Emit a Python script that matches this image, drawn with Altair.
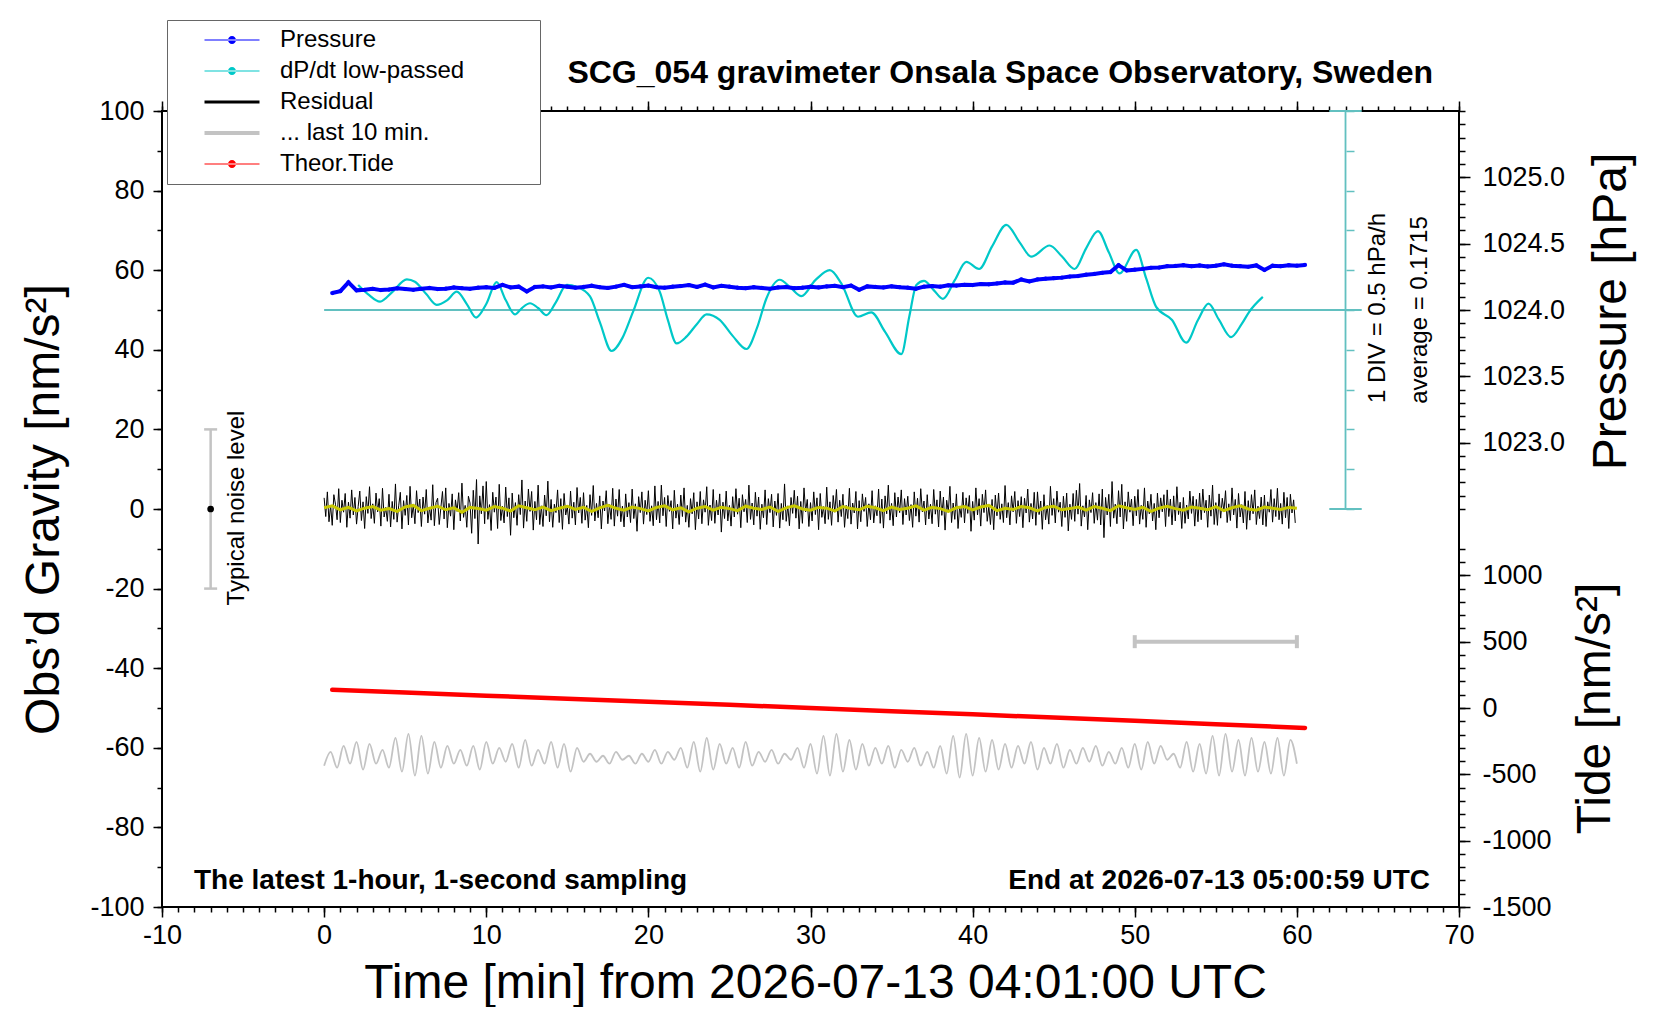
import altair as alt
import pandas as pd

# ------------------------------------------------------------------ data
# Pressure [hPa], sampled every 0.5 min starting at t = 0.5 min
PRES_T0, PRES_DT = 0.5, 0.5
PRES_HPA = [
    1024.128, 1024.142, 1024.208, 1024.148, 1024.152, 1024.160, 1024.150, 1024.154, 1024.163, 1024.158,
    1024.152, 1024.160, 1024.166, 1024.158, 1024.161, 1024.170, 1024.164, 1024.160, 1024.168, 1024.172,
    1024.166, 1024.190, 1024.170, 1024.176, 1024.140, 1024.174, 1024.178, 1024.170, 1024.182, 1024.176,
    1024.168, 1024.174, 1024.183, 1024.172, 1024.166, 1024.176, 1024.190, 1024.172, 1024.178, 1024.184,
    1024.172, 1024.168, 1024.176, 1024.180, 1024.188, 1024.174, 1024.192, 1024.170, 1024.182, 1024.176,
    1024.168, 1024.164, 1024.172, 1024.166, 1024.160, 1024.170, 1024.174, 1024.164, 1024.168, 1024.176,
    1024.170, 1024.178, 1024.182, 1024.172, 1024.184, 1024.152, 1024.178, 1024.174, 1024.170, 1024.178,
    1024.172, 1024.168, 1024.160, 1024.176, 1024.180, 1024.176, 1024.186, 1024.184, 1024.190, 1024.188,
    1024.196, 1024.194, 1024.200, 1024.208, 1024.206, 1024.230, 1024.216, 1024.230, 1024.236, 1024.240,
    1024.244, 1024.252, 1024.256, 1024.266, 1024.272, 1024.280, 1024.286, 1024.338, 1024.298, 1024.304,
    1024.310, 1024.318, 1024.320, 1024.330, 1024.332, 1024.338, 1024.330, 1024.336, 1024.328, 1024.334,
    1024.344, 1024.334, 1024.330, 1024.326, 1024.336, 1024.302, 1024.334, 1024.330, 1024.338, 1024.334,
    1024.340,
]

# dP/dt low-passed [hPa/h]
DPDT_T = [
    2.1, 2.7, 3.45, 4.2, 5.1, 5.6, 6.3, 6.94, 7.6, 8.18, 8.8, 9.37, 10.0, 10.64, 11.2, 11.77, 12.2, 12.7,
    13.2, 13.72, 14.3, 14.96, 15.6, 16.4, 17.0, 17.73, 18.4, 19.06, 19.99, 20.7, 21.2, 21.74, 22.35, 23.0,
    23.59, 24.4, 25.2, 26.05, 26.7, 27.28, 28.1, 28.8, 29.44, 30.3, 31.19, 31.9, 32.93, 33.75, 34.6, 35.6,
    36.1, 36.53, 37.0, 37.6, 38.17, 38.9, 39.61, 40.4, 41.2, 42.08, 42.9, 43.62, 44.75, 45.5, 46.29, 47.0,
    47.73, 48.4, 49.06, 50.09, 50.7, 51.32, 52.3, 53.17, 53.9, 54.55, 55.2, 55.94, 56.6, 57.07, 57.9,
]
DPDT_HPAH = [
    0.315, 0.20, 0.105, 0.225, 0.385, 0.355, 0.20, 0.065, 0.125, 0.23, 0.075, -0.095, 0.075, 0.35, 0.125,
    -0.055, 0.025, 0.085, 0.025, -0.065, 0.10, 0.315, 0.29, 0.17, -0.15, -0.515, -0.35, -0.02, 0.405, 0.23,
    -0.125, -0.42, -0.335, -0.175, -0.055, -0.125, -0.325, -0.49, -0.225, 0.145, 0.38, 0.275, 0.175, 0.375,
    0.50, 0.335, -0.085, -0.03, -0.275, -0.555, -0.075, 0.315, 0.365, 0.25, 0.14, 0.375, 0.605, 0.515, 0.80,
    1.07, 0.85, 0.67, 0.81, 0.675, 0.515, 0.775, 0.99, 0.725, 0.46, 0.755, 0.40, 0.04, -0.125, -0.41, -0.125,
    0.08, -0.125, -0.34, -0.175, -0.02, 0.165,
]

# Residual [nm/s^2], every 0.1 min from t = 0
RESID_T0, RESID_DT = 0.0, 0.1
RESID = [
    2.8, -1.9, 4.3, -3.2, 0.9, -4.1, 3.6, 1.2, -2.7, 5.1,
    -3.4, 2.2, -0.8, 3.9, -4.6, 1.7, -2.3, 4.8, -1.5, 2.9,
    -3.8, 0.6, 4.5, -2.9, 1.8, -4.9, 3.1, -1.1, 5.6, -2.4,
    1.3, -3.6, 4.0, -0.7, 2.6, -4.3, 5.2, -2.0, 0.4, -3.1,
    3.7, -4.5, 1.9, -2.6, 6.3, -3.3, 0.8, 4.2, -5.0, 2.1,
    -1.6, 3.4, -4.0, 5.7, -2.2, 1.0, -3.7, 4.6, -0.9, 2.5,
    -4.4, 3.0, -1.3, 4.9, -3.5, 0.5, -2.8, 6.1, -4.2, 1.6,
    2.7, -3.9, 0.3, 4.4, -2.5, 5.3, -4.7, 1.4, -1.8, 3.8,
    -5.2, 2.3, -0.6, 4.1, -3.0, 6.5, -2.1, 0.9, -4.6, 3.2,
    1.5, -6.1, 4.7, -2.4, 7.4, -8.8, 3.3, -1.2, 5.8, -3.7,
    6.9, -2.6, 1.1, -5.4, 4.2, -0.8, 3.0, -4.9, 6.2, -2.9,
    0.7, -3.5, 5.5, -1.9, 2.8, -6.6, 4.0, -2.2, 1.6, -4.1,
    3.6, -1.4, 7.3, -4.8, 2.0, -3.1, 5.0, -0.6, 4.4, -5.3,
    1.9, -2.7, 6.0, -3.9, 0.8, -4.4, 3.5, -1.7, 7.0, -3.2,
    2.4, -4.6, 1.2, -0.9, 4.8, -3.4, 2.6, -5.1, 3.9, -1.5,
    0.6, -3.8, 4.5, -2.3, 1.7, -4.0, 5.4, -1.0, 2.9, -3.6,
    4.1, -2.8, 0.9, -4.7, 3.6, -1.6, 5.9, -3.0, 1.4, -2.2,
    3.3, -5.0, 2.0, -0.5, 4.6, -3.7, 1.1, -2.6, 5.2, -4.3,
    2.5, -1.8, 4.9, -3.2, 0.7, -4.5, 3.8, -2.0, 1.6, -3.4,
    5.0, -2.4, 1.3, -5.6, 3.1, -0.9, 4.3, -3.8, 2.2, -1.4,
    4.6, -3.1, 0.8, -4.2, 5.8, -2.7, 1.9, -3.5, 6.0, -1.7,
    2.9, -4.4, 3.4, -0.6, 2.1, -5.0, 4.7, -2.3, 1.2, -3.9,
    3.5, -1.9, 5.3, -3.3, 0.9, -4.6, 2.6, -1.2, 4.1, -5.2,
    1.8, -2.5, 4.4, -3.7, 2.3, -0.8, 5.6, -4.1, 1.0, -2.9,
    4.9, -3.6, 2.2, -1.5, 3.8, -5.8, 1.7, -2.4, 4.5, -3.0,
    0.9, -4.3, 3.1, -2.0, 5.1, -1.3, 2.7, -4.7, 3.6, -0.7,
    2.4, -3.4, 6.0, -2.6, 1.5, -4.0, 4.2, -1.8, 3.0, -5.1,
    1.2, -2.2, 4.8, -3.9, 2.6, -0.9, 3.7, -4.5, 2.0, -1.6,
    3.9, -4.8, 1.4, -2.7, 6.3, -3.1, 0.8, -4.2, 2.9, -1.1,
    4.7, -2.3, 3.2, -5.0, 1.9, -3.6, 5.3, -0.7, 2.4, -4.4,
    1.6, -3.0, 4.3, -1.4, 2.8, -5.2, 3.9, -2.1, 0.6, -3.7,
    5.5, -2.6, 1.8, -4.1, 3.4, -0.8, 4.9, -3.3, 2.2, -1.9,
    3.7, -4.6, 0.9, -2.4, 5.2, -3.8, 1.5, -1.0, 4.4, -5.0,
    2.1, -3.2, 3.8, -0.6, 2.9, -4.4, 1.3, -2.7, 4.6, -3.5,
    0.8, -1.7, 5.0, -3.6, 2.5, -4.8, 3.3, -1.2, 6.0, -2.8,
    1.4, -4.2, 4.1, -2.0, 3.0, -0.9, 4.8, -3.9, 2.6, -1.5,
    3.2, -2.9, 1.1, -4.6, 4.3, -1.8, 2.7, -3.3, 5.1, -0.7,
    2.0, -4.0, 3.6, -2.5, 1.2, -3.7, 4.9, -1.3, 2.3, -4.5,
    4.5, -1.6, 3.0, -5.3, 2.2, -0.8, 5.7, -3.4, 1.5, -2.6,
    3.8, -4.9, 0.7, -2.1, 4.2, -3.5, 2.8, -1.1, 3.4, -5.6,
    1.9, -2.8, 5.3, -1.5, 2.6, -4.3, 3.7, -0.9, 4.8, -3.1,
    0.6, -3.9, 2.4, -5.2, 3.5, -1.7, 4.0, -2.6, 1.3, -3.4,
    5.9, -2.2, 1.6, -4.0, 3.3, -0.7, 4.4, -3.6, 2.1, -1.9,
    3.1, -4.7, 2.7, -1.0, 5.0, -3.3, 1.4, -2.5, 4.2, -4.1,
    4.3, -1.4, 2.0, -5.1, 3.6, -2.7, 0.9, -3.8, 5.7, -1.6,
    2.6, -3.5, 4.5, -0.8, 1.7, -4.4, 3.2, -2.1, 4.0, -5.5,
    1.2, -2.6, 3.9, -3.1, 4.7, -1.3, 6.4, -4.3, 0.8, -2.0,
    3.4, -5.2, 2.3, -0.9, 4.1, -3.6, 1.6, -2.8, 3.8, -4.0,
    5.0, -7.2, 2.9, -1.5, 3.7, -4.4, 6.9, -2.3, 1.2, -3.7,
    4.6, -2.0, 6.2, -5.0, 1.8, -3.1, 4.3, -0.8, 2.5, -4.2,
    3.2, -1.7, 4.9, -3.8, 0.9, -2.6, 5.3, -4.6, 2.0, -1.2,
    3.7, -3.0, 1.4, -5.2, 4.0, -2.2, 2.8, -0.7, 3.6, -4.4,
    4.8, -1.9, 2.5, -4.0, 3.3, -3.0, 5.6, -1.4, 1.7, -4.9,
    2.9, -3.6, 1.0, -2.5, 4.5, -1.1, 3.2, -4.3, 2.4, -3.2,
    4.0, -2.7, 5.0, -0.9, 2.2, -4.6, 3.5, -1.8, 6.0, -3.9,
    1.6, -4.1, 3.8, -2.3, 2.7, -0.6, 4.6, -3.4, 1.3, -2.9,
    5.3, -1.5, 2.4, -4.8, 3.9, -2.0, 1.1, -3.5, 4.4, -5.1,
    2.1, -2.8, 3.6, -1.2, 4.8, -3.9, 0.7, -2.4, 3.0, -4.0,
    3.5, -4.4, 1.8, -0.8, 4.9, -3.3, 2.6, -1.9, 5.2, -2.7,
    1.4, -3.8, 4.2, -2.2, 2.9, -4.9, 3.7, -1.0, 2.3, -3.5,
]

# Smoothed residual (yellow), every 0.5 min from t = 0
SMOOTH_T0, SMOOTH_DT = 0.0, 0.5
SMOOTH = [
    0.3, 0.8, -0.2, 0.4, -0.5, 0.2, 0.6, -0.3, 0.1, -0.6,
    0.5, 0.9, -0.4, 0.2, 0.7, -0.2, 0.3, -0.8, 0.4, 0.1,
    -0.3, 0.6, 0.2, -0.5, 0.8, 0.3, -0.2, 0.5, -0.4, 0.2,
    0.7, -0.1, 0.4, -0.6, 0.3, 0.9, 0.2, -0.3, 0.5, 0.1,
    -0.5, 0.4, 0.8, -0.2, 0.3, -0.7, 0.2, 0.6, -0.3, 0.4,
    0.1, -0.4, 0.7, 0.2, -0.1, 0.5, -0.6, 0.3, 0.8, 0.0,
    -0.3, 0.4, 0.2, -0.5, 0.6, 0.1, -0.2, 0.7, 0.3, -0.4,
    0.5, -0.1, 0.2, 0.8, -0.3, 0.4, 0.1, -0.6, 0.3, 0.6,
    -0.2, 0.5, 0.9, -0.4, 0.2, -0.1, 0.6, 0.3, -0.5, 0.4,
    0.7, -0.2, 0.1, 0.5, -0.3, 0.6, 0.2, -0.4, 0.8, 0.3,
    -0.1, 0.4, -0.6, 0.2, 0.7, 0.1, -0.3, 0.5, 0.2, -0.2,
    0.6, -0.4, 0.3, 0.8, 0.0, -0.3, 0.5, 0.2, -0.1, 0.4,
    0.2,
]

# "... last 10 min." (grey trace, expanded over the hour), peaks/troughs every 0.4 min
LAST10_T0, LAST10_DT = 0.0, 0.4
LAST10 = [
    -64.5, -61, -65, -59.5, -64, -58.5, -65.5, -59, -64, -60.5, -65,
    -57.5, -66, -56.5, -67, -57, -66.5, -58.5, -65, -59.5,
    -64, -60.5, -64.5, -59.5, -65.5, -58.5, -64, -60, -63.5, -59, -65,
    -58, -64.5, -60.5, -64, -58.5, -65, -59, -66, -60, -63.5,
    -61.5, -63.5, -62, -64, -61, -63, -62, -64, -61.5, -63.5, -60.5, -64, -61, -63, -60,
    -65, -58.5, -66, -57.5, -65.5, -59, -64, -60, -65, -58.5,
    -64.5, -61, -63.5, -60.5, -64, -61.5, -63, -60, -65, -59,
    -66.5, -57, -67, -56.5, -66, -58, -65.5, -59, -64.5, -60,
    -64, -59.5, -65, -60.5, -63.5, -60, -64.5, -61, -65, -59.5,
    -66.5, -57, -67.5, -56.5, -67, -57.5, -66, -58, -65.5, -59,
    -65, -59.5, -64, -58.5, -65.5, -60, -64, -59, -65, -60.5,
    -64, -60, -63.5, -59.5, -64.5, -61, -64, -60, -65, -59,
    -65.5, -58.5, -64, -59.5, -63, -61.5, -65, -58.5, -66, -59,
    -66.5, -57, -67, -56.5, -66, -58, -67, -57.5, -66, -58.5,
    -66.5, -57.5, -67, -58, -64,
]

# Theoretical tide [nm/s^2]
TIDE_T = [0.5, 5, 10, 15, 20, 25, 30, 35, 40, 45, 50, 55, 60.5]
TIDE = [137, 116, 93, 70, 47, 24, 0, -24, -48, -72, -97, -122, -150]

# typical noise level and last-10-min window
NOISE_T = -7.0
NOISE_LEVEL = 20.0
LAST10_WINDOW = [50.0, 60.0]
LAST10_LEVEL = 500.0          # on the tide axis

LEGEND_NAMES = ["Pressure", "dP/dt low-passed", "Residual", "... last 10 min.", "Theor.Tide"]

TITLE = "SCG_054 gravimeter Onsala Space Observatory, Sweden"
NOTE_LEFT = "The latest 1-hour, 1-second sampling"
NOTE_RIGHT = "End at 2026-07-13 05:00:59 UTC"
DIV_TEXT = "1 DIV = 0.5 hPa/h"
AVG_TEXT = "average = 0.1715"
NOISE_TEXT = "Typical noise level"
X_TITLE = "Time [min] from 2026-07-13 04:01:00 UTC"

# ------------------------------------------------------------------ style
FONT = "Liberation Sans"
BLUE, CYAN, CYAN_L = "#0000ff", "#00c8c8", "#62c0c0"
GREY, RED, YELLOW = "#c3c3c3", "#ff0000", "#c8c800"
LEGEND_COLORS = [BLUE, CYAN, "#000000", GREY, RED]
PATH_DOT = ("M-5.5,-0.1L5.5,-0.1L5.5,0.1L-5.5,0.1Z "
            "M-0.8,0A0.8,0.8,0,1,0,0.8,0A0.8,0.8,0,1,0,-0.8,0Z")
PATH_THICK = "M-5.5,-0.3L5.5,-0.3L5.5,0.3L-5.5,0.3Z"
PATH_THICKER = "M-5.5,-0.4L5.5,-0.4L5.5,0.4L-5.5,0.4Z"
LEGEND_SHAPES = [PATH_DOT, PATH_DOT, PATH_THICK, PATH_THICKER, PATH_DOT]
LEGEND_SPACER = "MMM"   # invisible (white) legend title on the right: widens the box

X_DOM = [-10, 70]
G_DOM = [-100, 100]
P_DOM = [1019.5, 1025.5]
T_DOM = [-1500, 4500]
D_DOM = [-7.5, 2.5]

W, H = 1297, 796


def X(axis=None):
    return alt.X("t:Q", scale=alt.Scale(domain=X_DOM, nice=False, zero=False), axis=axis)


def Y(field, dom, axis=None):
    return alt.Y(f"{field}:Q", scale=alt.Scale(domain=dom, nice=False, zero=False), axis=axis)


def tick_axis(orient, values, size, color="black", offset=0):
    return alt.Axis(orient=orient, values=values, tickSize=size, labels=False, domain=False,
                    grid=False, ticks=True, tickColor=color, tickWidth=1.5, title=None,
                    offset=offset)


AX_BOTTOM = alt.Axis(orient="bottom", values=list(range(-10, 71, 10)), labelExpr="'' + datum.value",
                     tickSize=10, tickWidth=1.5, labelPadding=5, labelFontSize=27, domain=False,
                     grid=False, title=X_TITLE, titleFontSize=48, titleFontWeight="normal",
                     titleX=653, titleY=90, titleAlign="center", titleBaseline="alphabetic",
                     labelFlush=False, labelOverlap=False)
AX_BOTTOM_MINOR = tick_axis("bottom", list(range(-10, 71)), 5)
AX_TOP = tick_axis("top", list(range(-10, 71, 10)), 10)
AX_TOP_MINOR = tick_axis("top", list(range(-10, 71)), 5)
AX_LEFT = alt.Axis(orient="left", values=list(range(-100, 101, 20)), labelExpr="'' + datum.value",
                   tickSize=9, tickWidth=1.5, labelPadding=9, labelFontSize=27, domain=False, grid=False,
                   title="Obs\u2019d Gravity [nm/s\u00b2]", titleFontSize=48, titleFontWeight="normal",
                   titleAngle=270, titleX=-104, titleY=398, titleAlign="center",
                   titleBaseline="alphabetic", labelOverlap=False)
AX_LEFT_MINOR = tick_axis("left", list(range(-100, 101, 10)), 5)
AX_PRES = alt.Axis(orient="right", values=[1023.0, 1023.5, 1024.0, 1024.5, 1025.0], format=".1f",
                   tickSize=11, tickWidth=1.5, labelPadding=12, labelFontSize=27, domain=False,
                   grid=False, title="Pressure [hPa]", titleFontSize=48, titleFontWeight="normal",
                   titleAngle=270, titleX=166, titleY=200, titleAlign="center",
                   titleBaseline="alphabetic", labelOverlap=False)
AX_PRES_MINOR = tick_axis("right", [round(1022.5 + 0.1 * i, 1) for i in range(31)], 6)
AX_TIDE = alt.Axis(orient="right", values=[-1500, -1000, -500, 0, 500, 1000], labelExpr="'' + datum.value",
                   tickSize=11, tickWidth=1.5, labelPadding=12, labelFontSize=27, domain=False,
                   grid=False, title="Tide [nm/s\u00b2]", titleFontSize=48, titleFontWeight="normal",
                   titleAngle=270, titleX=150, titleY=597, titleAlign="center",
                   titleBaseline="alphabetic", labelOverlap=False)
AX_TIDE_MINOR = tick_axis("right", list(range(-1500, 1201, 100)), 6)
AX_DPDT = tick_axis("right", [-2.5 + 0.5 * i for i in range(11)], 8, color=CYAN_L, offset=-113)

# ------------------------------------------------------------------ frames
df_pres = pd.DataFrame({"t": [PRES_T0 + PRES_DT * i for i in range(len(PRES_HPA))], "p": PRES_HPA})
df_dpdt = pd.DataFrame({"t": DPDT_T, "d": DPDT_HPAH})
df_res = pd.DataFrame({"t": [RESID_T0 + RESID_DT * i for i in range(len(RESID))], "g": RESID})
df_smooth = pd.DataFrame({"t": [SMOOTH_T0 + SMOOTH_DT * i for i in range(len(SMOOTH))], "g": SMOOTH})
df_last = pd.DataFrame({"t": [LAST10_T0 + LAST10_DT * i for i in range(len(LAST10))], "g": LAST10})
df_tide = pd.DataFrame({"t": TIDE_T, "tide": TIDE})
df_noise = pd.DataFrame({"t": [NOISE_T], "lo": [-NOISE_LEVEL], "hi": [NOISE_LEVEL], "mid": [0.0]})
df_noise_caps = pd.DataFrame({"t": [NOISE_T, NOISE_T], "g": [-NOISE_LEVEL, NOISE_LEVEL]})
df_win = pd.DataFrame({"t": [LAST10_WINDOW[0]], "t2": [LAST10_WINDOW[1]], "lev": [LAST10_LEVEL]})
df_win_caps = pd.DataFrame({"t": LAST10_WINDOW, "lev": [LAST10_LEVEL, LAST10_LEVEL]})
df_zero = pd.DataFrame({"t": [0.0], "t2": [64.0], "d": [0.0]})
df_bar = pd.DataFrame({"t": [63.0], "lo": [-2.5], "hi": [2.5]})
df_bar_caps = pd.DataFrame({"t": [62.0, 62.0], "t2": [64.0, 64.0], "d": [-2.5, 2.5]})
df_leg = pd.DataFrame({"series": LEGEND_NAMES})

# ------------------------------------------------------------------ layers
L_res = alt.Chart(df_res).mark_line(color="black", strokeWidth=1).encode(
    x=X(AX_BOTTOM), y=Y("g", G_DOM, AX_LEFT))
L_smooth = alt.Chart(df_smooth).mark_line(color=YELLOW, strokeWidth=3).encode(
    x=X(AX_BOTTOM_MINOR), y=Y("g", G_DOM, AX_LEFT_MINOR))
L_last = alt.Chart(df_last).mark_line(color=GREY, strokeWidth=1.8, interpolate="monotone").encode(
    x=X(AX_TOP), y=Y("g", G_DOM))
L_noise = alt.Chart(df_noise).mark_rule(color=GREY, strokeWidth=2.5).encode(
    x=X(AX_TOP_MINOR), y=Y("lo", G_DOM), y2="hi")
L_noise_caps = alt.Chart(df_noise_caps).mark_tick(orient="horizontal", size=13, thickness=2.5,
                                                   color=GREY, opacity=1).encode(
    x=X(), y=Y("g", G_DOM))
L_noise_dot = alt.Chart(df_noise).mark_point(filled=True, color="black", size=45, opacity=1).encode(
    x=X(), y=Y("mid", G_DOM))
L_tide = alt.Chart(df_tide).mark_line(color=RED, strokeWidth=4.5, strokeCap="round").encode(
    x=X(), y=Y("tide", T_DOM, AX_TIDE))
L_win = alt.Chart(df_win).mark_rule(color=GREY, strokeWidth=4).encode(
    x=X(), x2="t2", y=Y("lev", T_DOM, AX_TIDE_MINOR))
L_win_caps = alt.Chart(df_win_caps).mark_tick(orient="vertical", size=13, thickness=4,
                                               color=GREY, opacity=1).encode(
    x=X(), y=Y("lev", T_DOM))
L_zero = alt.Chart(df_zero).mark_rule(color=CYAN_L, strokeWidth=1.8).encode(
    x=X(), x2="t2", y=Y("d", D_DOM))
L_bar = alt.Chart(df_bar).mark_rule(color=CYAN_L, strokeWidth=1.8).encode(
    x=X(), y=Y("lo", D_DOM), y2="hi")
L_bar_caps = alt.Chart(df_bar_caps).mark_rule(color=CYAN_L, strokeWidth=1.8).encode(
    x=X(), x2="t2", y=Y("d", D_DOM))
L_dpdt = alt.Chart(df_dpdt).mark_line(color=CYAN, strokeWidth=2.2, interpolate="monotone").encode(
    x=X(), y=Y("d", D_DOM, AX_DPDT))
L_pres = alt.Chart(df_pres).mark_line(color=BLUE, strokeWidth=4).encode(
    x=X(), y=Y("p", P_DOM, AX_PRES))
L_pres_pts = alt.Chart(df_pres).mark_circle(color=BLUE, size=18, opacity=1).encode(
    x=X(), y=Y("p", P_DOM, AX_PRES_MINOR))

LEG = alt.Legend(orient="none", legendX=5, legendY=-91, title=LEGEND_SPACER, titleOrient="right",
                 titleColor="white", titleFontSize=24, titleFont=FONT, titlePadding=8,
                 labelFontSize=24, labelFont=FONT,
                 labelColor="black", symbolSize=100, symbolOffset=45, labelOffset=36, padding=8,
                 rowPadding=7, fillColor="white", strokeColor="#666666", symbolStrokeWidth=0,
                 labelLimit=600)
L_leg = alt.Chart(df_leg).mark_point(filled=True, size=100, opacity=1, clip=True).encode(
    x=alt.value(-600), y=alt.value(-600),
    color=alt.Color("series:N", scale=alt.Scale(domain=LEGEND_NAMES, range=LEGEND_COLORS), legend=LEG),
    shape=alt.Shape("series:N", scale=alt.Scale(domain=LEGEND_NAMES, range=LEGEND_SHAPES), legend=LEG),
)


def text_layer(s, px, py, size, weight="normal", align="center", baseline="alphabetic", angle=0):
    return alt.Chart(pd.DataFrame({"s": [s]})).mark_text(
        font=FONT, fontSize=size, fontWeight=weight, align=align, baseline=baseline,
        angle=angle, color="black").encode(x=alt.value(px), y=alt.value(py), text="s:N")


T_title = text_layer(TITLE, 1271, -28, 32, weight="bold", align="right")
T_left = text_layer(NOTE_LEFT, 32, 778, 28, weight="bold", align="left")
T_right = text_layer(NOTE_RIGHT, 1268, 778, 28, weight="bold", align="right")
T_div = text_layer(DIV_TEXT, 1216, 197, 24, baseline="middle", angle=270)
T_avg = text_layer(AVG_TEXT, 1258, 199, 24, baseline="middle", angle=270)
T_noise = text_layer(NOISE_TEXT, 75, 397, 24, baseline="middle", angle=270)

chart = alt.layer(
    L_res, L_smooth, L_last, L_tide, L_win, L_win_caps, L_zero, L_bar, L_bar_caps, L_dpdt,
    L_pres, L_pres_pts, L_noise, L_noise_caps, L_noise_dot, L_leg,
    T_title, T_left, T_right, T_div, T_avg, T_noise,
).resolve_scale(
    x="independent", y="independent"
).properties(
    width=W, height=H,
    padding={"left": 154, "top": 103, "right": 190, "bottom": 100},
    autosize=alt.AutoSizeParams(type="none"),
    background="white",
).configure_view(
    stroke="black", strokeWidth=2
).configure_axis(
    labelFont=FONT, titleFont=FONT, labelColor="black", titleColor="black", tickColor="black",
    labelFlush=False,
)

chart.save("out.html", embed_options={"renderer": "svg", "actions": False})
